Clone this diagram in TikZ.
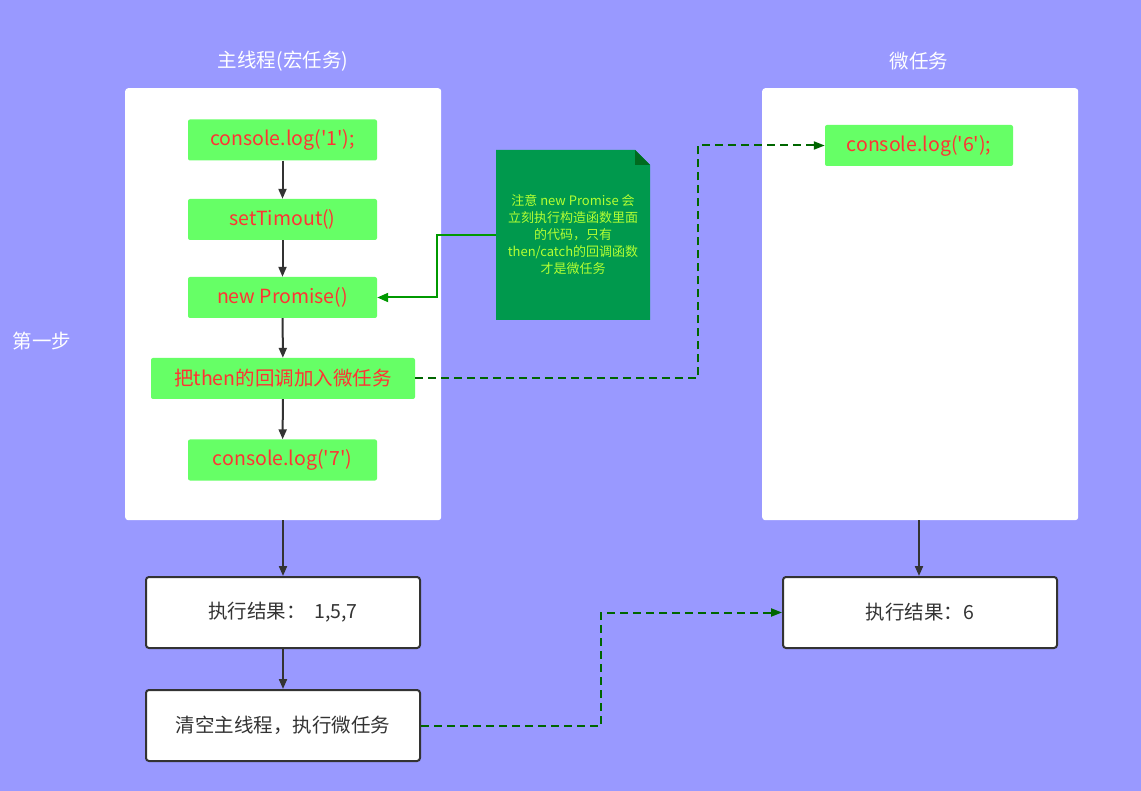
\documentclass[tikz,border=0pt]{standalone}
\usepackage{fontspec}
\newfontfamily\cjk{Noto Sans CJK SC}
\usetikzlibrary{arrows.meta}
\definecolor{bgc}{HTML}{9999FF}
\definecolor{gbox}{HTML}{66FF66}
\definecolor{rtext}{HTML}{FF3333}
\definecolor{notec}{HTML}{00994D}
\definecolor{notefold}{HTML}{006B1F}
\definecolor{notetext}{HTML}{B3FF33}
\definecolor{darkg}{HTML}{006600}
\definecolor{lineg}{HTML}{009900}
\definecolor{darkline}{HTML}{333333}
\tikzset{
  panel/.style={fill=white, rounded corners=3pt, inner sep=0pt, anchor=north west},
  gnode/.style={fill=gbox, rounded corners=2pt, inner sep=0pt, minimum height=41pt, text=rtext, font=\cjk\fontsize{19.5}{22}\selectfont},
  rbox/.style={draw=darkline, line width=2pt, fill=white, rounded corners=3pt, minimum width=274pt, minimum height=71pt, inner sep=0pt, text=darkline, font=\cjk\fontsize{19.5}{22}\selectfont},
  arr/.style={-{Triangle[length=10pt,width=8pt]}, draw=darkline, line width=2pt},
  dasharr/.style={-{Triangle[length=11pt,width=8pt]}, draw=darkg, line width=2pt, dash pattern=on 8pt off 5pt},
  title/.style={text=white, font=\cjk\fontsize{19.5}{22}\selectfont}
}
\begin{document}
\begin{tikzpicture}[x=1pt,y=-1pt]
\fill[bgc] (0,0) rectangle (1141,791);
\useasboundingbox (0,0) rectangle (1141,791);
% panels
\node[panel, minimum width=316pt, minimum height=432pt] (lp) at (125,88) {};
\node[panel, minimum width=316pt, minimum height=432pt] (rp) at (762,88) {};
\node[title] (t1) at (283,61) {主线程(宏任务)};
\node[title] (t2) at (919,61) {微任务};
\node[title] (step) at (42,341) {第一步};
% green nodes
\node[gnode, minimum width=189pt] (c1) at (282.5,140) {console.log('1');};
\node[gnode, minimum width=189pt] (st) at (282.5,219.5) {setTimout()};
\node[gnode, minimum width=189pt] (np) at (282.5,297.5) {new Promise()};
\node[gnode, minimum width=264pt] (th) at (283,378.5) {把then的回调加入微任务};
\node[gnode, minimum width=189pt] (c7) at (282.5,460) {console.log('7')};
\node[gnode, minimum width=188pt] (c6) at (919,145.5) {console.log('6');};
\draw[arr] (c1) -- (st);
\draw[arr] (st) -- (np);
\draw[arr] (np) -- (th);
\draw[arr] (th) -- (c7);
% note
\fill[notec] (496,150) -- (635,150) -- (650,165) -- (650,320) -- (496,320) -- cycle;
\fill[notefold] (635,150) -- (650,165) -- (635,165) -- cycle;
\node[text=notetext, font=\cjk\fontsize{13}{17}\selectfont, align=center] (note) at (573,235) {注意 new Promise 会\\立刻执行构造函数里面\\的代码，只有\\then/catch的回调函数\\才是微任务};
\coordinate (noteL) at (496,235);
\draw[lineg, line width=2pt, -{Triangle[length=11pt,width=9pt]}] (noteL) -- (437,235) -- (437,297.5) -- (np.east);
% dashed th -> c6
\draw[dasharr] (th.east) -- (698,378.5) -- (698,145.5) -- (c6.west);
% result boxes
\node[rbox] (r1) at (283,612.5) {执行结果：\ \ 1,5,7};
\node[rbox] (cl) at (283,725.5) {清空主线程，执行微任务};
\node[rbox] (r2) at (920,612.5) {执行结果：6};
\draw[arr] (lp.south -| r1.north) -- (r1.north);
\draw[arr] (r1) -- (cl);
\draw[arr] (rp.south -| r2.north) ++(-1,0) -- ([xshift=-1pt]r2.north);
\draw[dasharr] (cl.east) -- (601,725.5) -- (601,612.5) -- (r2.west);
\end{tikzpicture}
\end{document}
